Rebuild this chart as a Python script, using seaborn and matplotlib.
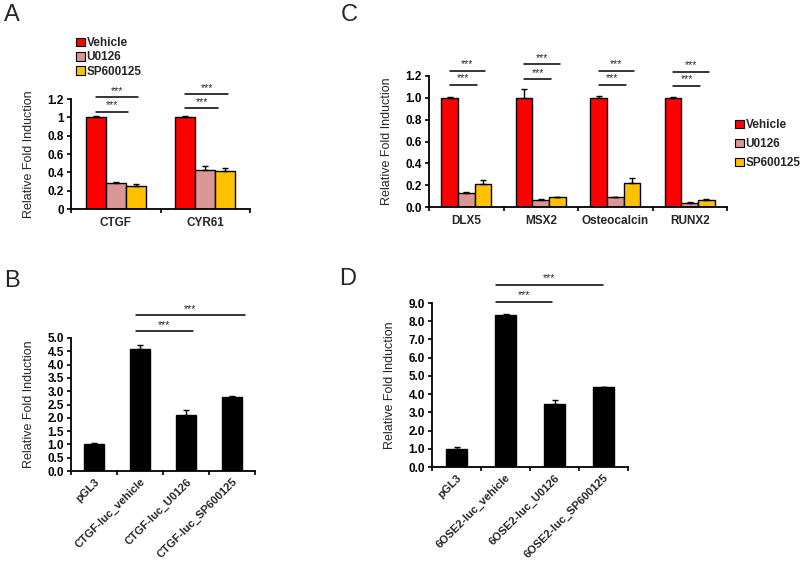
import numpy as np
import pandas as pd
import matplotlib
matplotlib.use("Agg")
import matplotlib.pyplot as plt
import matplotlib.transforms as mtransforms
import seaborn as sns
from matplotlib.patches import Patch

# panel A
genes_a = ['CTGF', 'CYR61']
treatments = ['Vehicle', 'U0126', 'SP600125']
vals_a = [[1.0, 0.28, 0.25], [1.0, 0.43, 0.42]]
errs_a = [[0.01, 0.02, 0.02], [0.01, 0.04, 0.03]]
sig_a = [[1.06, 1.22], [1.10, 1.25]]

# panel C
genes_c = ['DLX5', 'MSX2', 'Osteocalcin', 'RUNX2']
vals_c = [[1.0, 0.13, 0.21], [1.0, 0.065, 0.09], [1.0, 0.09, 0.22], [1.0, 0.04, 0.065]]
errs_c = [[0.01, 0.006, 0.035], [0.08, 0.005, 0.005], [0.02, 0.005, 0.05], [0.01, 0.005, 0.01]]
sig_c = [[1.12, 1.25], [1.17, 1.31], [1.12, 1.25], [1.11, 1.24]]

# panel B
labels_b = ['pGL3', 'CTGF-luc_vehicle', 'CTGF-luc_U0126', 'CTGF-luc_SP600125']
vals_b = [1.0, 4.6, 2.1, 2.8]
errs_b = [0.07, 0.12, 0.18, 0.03]
sig_b = [5.26, 5.86]

# panel D
labels_d = ['pGL3', '6OSE2-luc_vehicle', '6OSE2-luc_U0126', '6OSE2-luc_SP600125']
vals_d = [1.0, 8.35, 3.45, 4.38]
errs_d = [0.12, 0.06, 0.2, 0.02]
sig_d = [9.07, 10.0]

colors = ['#FF0000', '#D99694', '#FFC000']

sns.set_style('ticks')
plt.rcParams['font.family'] = ['Liberation Sans', 'DejaVu Sans']

W, H = 800, 564
fig = plt.figure(figsize=(8, 5.64), dpi=100)


def px_axes(left, right, top, bottom):
    return fig.add_axes([left / W, 1 - bottom / H, (right - left) / W, (bottom - top) / H])


def style_axes(ax, n, ymax, yticks, ylabels):
    sns.despine(ax=ax)
    ax.set_xlim(-0.5, n - 0.5)
    ax.set_ylim(0, ymax)
    ax.set_yticks(yticks)
    ax.set_yticklabels(ylabels, fontsize=8.5, fontweight='bold')
    ax.tick_params(axis='y', direction='out', length=3, width=1.2, pad=2, colors='black')
    ax.tick_params(axis='x', which='major', length=0)
    ax.set_xticks(np.arange(-0.5, n), minor=True)
    ax.tick_params(axis='x', which='minor', direction='out', length=3, width=1.2, colors='black')
    for s in ['left', 'bottom']:
        ax.spines[s].set_linewidth(1.3)
        ax.spines[s].set_color('black')
    ax.set_ylabel('Relative Fold Induction', fontsize=9, labelpad=9)
    ax.set_xlabel('')


def grouped(ax, genes, vals, errs, sig):
    df = pd.DataFrame([(g, t, vals[i][j]) for i, g in enumerate(genes) for j, t in enumerate(treatments)],
                      columns=['gene', 'treat', 'val'])
    sns.barplot(data=df, x='gene', y='val', hue='treat', palette=colors, width=0.67, saturation=1,
                edgecolor='black', linewidth=1, ax=ax, legend=False, errorbar=None)
    bw = 0.67 / 3
    bars = list(ax.containers)
    for j, cont in enumerate(bars):
        for i, p in enumerate(cont.patches):
            xc = p.get_x() + p.get_width() / 2
            ax.errorbar(xc, vals[i][j], yerr=[[0], [errs[i][j]]], fmt='none', ecolor='black',
                        elinewidth=1, capsize=2.5, capthick=1)
    for i in range(len(genes)):
        x0 = i - bw
        for k, x1 in enumerate([i + 0.14, i + bw + 0.03]):
            y = sig[i][k]
            ax.plot([x0, x1], [y, y], color='black', lw=1.1, clip_on=False)
            ax.annotate('***', ((x0 + x1) / 2, y), xytext=(0, 1), textcoords='offset points',
                        ha='center', va='bottom', fontsize=7.5, annotation_clip=False)
    ax.set_xticks(range(len(genes)))
    ax.set_xticklabels(genes, fontsize=8.5, fontweight='bold')
    ax.tick_params(axis='x', which='major', pad=6)


def single(ax, labels, vals, errs, sig, bw, sig_x, shift):
    df = pd.DataFrame({'label': labels, 'val': vals})
    sns.barplot(data=df, x='label', y='val', color='black', width=bw, edgecolor='black',
                saturation=1, ax=ax, errorbar=None)
    ax.errorbar(range(len(labels)), vals, yerr=[np.zeros(len(vals)), errs], fmt='none',
                ecolor='black', elinewidth=1, capsize=2.5, capthick=1)
    x0 = 1 + sig_x[0]
    for k, x1 in enumerate([2 + sig_x[1], 3 + sig_x[2]]):
        ax.plot([x0, x1], [sig[k], sig[k]], color='black', lw=1.1, clip_on=False)
        ax.annotate('***', ((x0 + x1) / 2, sig[k]), xytext=(0, 1), textcoords='offset points',
                    ha='center', va='bottom', fontsize=7.5, annotation_clip=False)
    ax.set_xticks(range(len(labels)))
    ax.set_xticklabels(labels, fontsize=8, fontweight='bold', rotation=45, ha='right',
                       rotation_mode='anchor')
    ax.tick_params(axis='x', which='major', pad=4)
    off = mtransforms.ScaledTranslation(shift / 100, 0, fig.dpi_scale_trans)
    for lab in ax.get_xticklabels():
        lab.set_transform(lab.get_transform() + off)


# A
axA = px_axes(71, 250, 99, 209)
grouped(axA, genes_a, vals_a, errs_a, sig_a)
style_axes(axA, 2, 1.2, [0, 0.2, 0.4, 0.6, 0.8, 1.0, 1.2], ['0', '0.2', '0.4', '0.6', '0.8', '1', '1.2'])

# C
axC = px_axes(429, 727, 76, 207)
grouped(axC, genes_c, vals_c, errs_c, sig_c)
style_axes(axC, 4, 1.2, np.arange(0, 1.21, 0.2), [f'{v:.1f}' for v in np.arange(0, 1.21, 0.2)])

# B
axB = px_axes(71, 255, 338, 471)
single(axB, labels_b, vals_b, errs_b, sig_b, 0.43, [-0.09, 0.15, 0.28], 10)
style_axes(axB, 4, 5.0, np.arange(0, 5.01, 0.5), [f'{v:.1f}' for v in np.arange(0, 5.01, 0.5)])

# D
axD = px_axes(432, 628, 303, 467)
single(axD, labels_d, vals_d, errs_d, sig_d, 0.42, [-0.2, -0.06, -0.02], 3)
style_axes(axD, 4, 9.0, np.arange(0, 9.01, 1), [f'{v:.1f}' for v in np.arange(0, 9.01, 1)])

handles = [Patch(facecolor=c, edgecolor='black', linewidth=0.8, label=t) for c, t in zip(colors, treatments)]
fig.legend(handles=handles, loc='upper left', bbox_to_anchor=(76 / W, 1 - 37 / H), frameon=False,
           handlelength=0.75, handleheight=0.75, handletextpad=0.15, labelspacing=0.2,
           borderpad=0, borderaxespad=0, prop={'weight': 'bold', 'size': 8.5})
fig.legend(handles=handles, loc='upper left', bbox_to_anchor=(735 / W, 1 - 119 / H), frameon=False,
           handlelength=0.75, handleheight=0.75, handletextpad=0.15, labelspacing=0.6,
           borderpad=0, borderaxespad=0, prop={'weight': 'bold', 'size': 8.5})

for letter, x, y in [('A', 4, 4), ('C', 341, 4), ('B', 4, 270), ('D', 339, 268)]:
    fig.text(x / W, 1 - y / H, letter, fontsize=17, va='top', ha='left')

fig.savefig('out.png', dpi=100)
